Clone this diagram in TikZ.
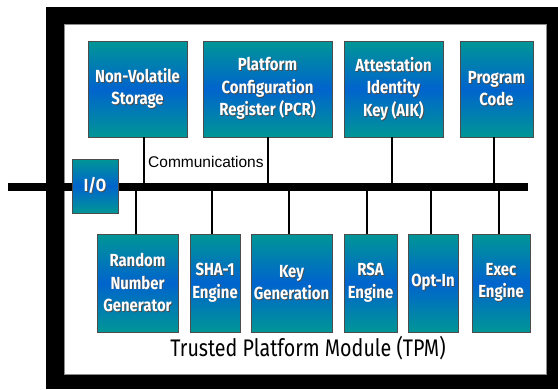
\documentclass[tikz,border=0pt]{standalone}
\usepackage{fontspec}
\setmainfont{Liberation Sans}
\newfontfamily\boxfont[FakeStretch=0.85]{Fira Sans}
\newfontfamily\titlefont[FakeStretch=0.82]{Fira Sans}

\definecolor{tpmteal}{RGB}{0,150,150}
\definecolor{tpmblue}{RGB}{0,100,205}

% white lettering with a soft dark drop shadow
\newcommand\shd[1]{\leavevmode\rlap{\kern0.9pt\raisebox{-0.9pt}{\textcolor{black!70}{#1}}}#1}

\tikzset{
  tpmbox/.style={draw=black!70, line width=0.8pt,
    top color=tpmteal, bottom color=tpmteal, middle color=tpmblue,
    text=white, align=center, inner sep=0pt,
    font=\boxfont\bfseries\fontsize{17.5}{22.5}\selectfont},
  busbar/.style={fill=black, inner sep=0pt, minimum height=8pt},
  conn/.style={draw=black, line width=1.5pt},
}

\begin{document}
\begin{tikzpicture}[x=1pt,y=-1pt]
\useasboundingbox (0,0) rectangle (558,389);

% module frame
\fill[black] (46,7) rectangle (558,389);
\fill[white, draw=black!45, line width=0.6pt] (64,24) rectangle (546,374);

% internal bus
\node[busbar, minimum width=520pt] (bus) at (268,187) {};

% upper units
\node[tpmbox, minimum width=99pt, minimum height=96pt] (nvs) at (137.5,89)
  {\shd{Non-Volatile}\\\shd{Storage}};
\node[tpmbox, minimum width=129pt, minimum height=96pt] (pcr) at (267.5,89)
  {\shd{Platform}\\\shd{Configuration}\\\shd{Register (PCR)}};
\node[tpmbox, minimum width=99pt, minimum height=96pt] (aik) at (393.5,89)
  {\shd{Attestation}\\\shd{Identity}\\\shd{Key (AIK)}};
\node[tpmbox, minimum width=73pt, minimum height=96pt] (prog) at (496.5,89)
  {\shd{Program}\\\shd{Code}};

% lower units
\node[tpmbox, minimum width=81pt, minimum height=98pt] (rng) at (137.5,283)
  {\shd{Random}\\\shd{Number}\\\shd{Generator}};
\node[tpmbox, minimum width=50pt, minimum height=98pt] (sha) at (215,283)
  {\shd{SHA-1}\\\shd{Engine}};
\node[tpmbox, minimum width=81pt, minimum height=98pt] (keygen) at (291.5,283)
  {\shd{Key}\\\shd{Generation}};
\node[tpmbox, minimum width=53pt, minimum height=98pt] (rsa) at (370.5,283)
  {\shd{RSA}\\\shd{Engine}};
\node[tpmbox, minimum width=50pt, minimum height=98pt] (optin) at (433,283)
  {\shd{Opt-In}};
\node[tpmbox, minimum width=58pt, minimum height=98pt] (exec) at (501,283)
  {\shd{Exec}\\\shd{Engine}};

% taps from the units onto the bus
\draw[conn] ([xshift=6.5pt]nvs.south) -- ([xshift=6.5pt]nvs.south |- bus.north);
\draw[conn] ([xshift=0.5pt]pcr.south) -- ([xshift=0.5pt]pcr.south |- bus.north);
\draw[conn] ([xshift=-1.5pt]aik.south) -- ([xshift=-1.5pt]aik.south |- bus.north);
\draw[conn] ([xshift=-2.5pt]prog.south) -- ([xshift=-2.5pt]prog.south |- bus.north);
\draw[conn] ([xshift=-1.5pt]rng.north) -- ([xshift=-1.5pt]rng.north |- bus.south);
\draw[conn] ([xshift=-3pt]sha.north) -- ([xshift=-3pt]sha.north |- bus.south);
\draw[conn] ([xshift=-2.5pt]keygen.north) -- ([xshift=-2.5pt]keygen.north |- bus.south);
\draw[conn] ([xshift=-3.5pt]rsa.north) -- ([xshift=-3.5pt]rsa.north |- bus.south);
\draw[conn] ([xshift=-2pt]optin.north) -- ([xshift=-2pt]optin.north |- bus.south);
\draw[conn] ([xshift=-2pt]exec.north) -- ([xshift=-2pt]exec.north |- bus.south);

% I/O port sitting on the bus
\node[tpmbox, minimum width=46pt, minimum height=54pt] (io) at (95,186) {\shd{I/O}};

% labels
\node[anchor=west, inner sep=0pt, font=\fontsize{15.5}{18}\selectfont] (comm) at (148,162) {Communications};
\node[inner sep=0pt, font=\titlefont\fontsize{24}{27}\selectfont] (tpm) at (308,348) {Trusted Platform Module (TPM)};
\end{tikzpicture}
\end{document}
